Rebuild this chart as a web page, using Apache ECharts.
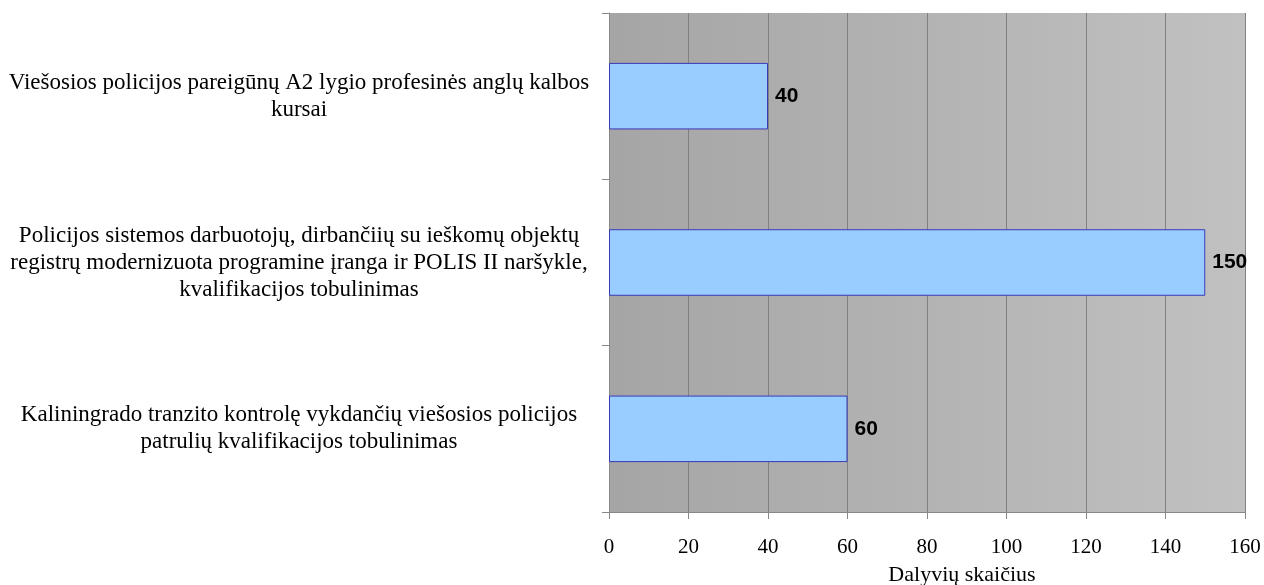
<!DOCTYPE html>
<html>
<head>
<meta charset="utf-8">
<style>
  html, body { margin: 0; padding: 0; background: #ffffff; }
  #chart { width: 1264px; height: 585px; }
</style>
<script src="https://cdn.jsdelivr.net/npm/echarts@6/dist/echarts.min.js"></script>
</head>
<body>
<div id="chart"></div>
<script>
// Categories listed bottom-to-top (category axis starts at the bottom)
const categories = [
  'Kaliningrado tranzito kontrolę vykdančių viešosios policijos\npatrulių kvalifikacijos tobulinimas',
  'Policijos sistemos darbuotojų, dirbančiių su ieškomų objektų\nregistrų modernizuota programine įranga ir POLIS II naršykle,\nkvalifikacijos tobulinimas',
  'Viešosios policijos pareigūnų A2 lygio profesinės anglų kalbos\nkursai'
];
const participants = [60, 150, 40];
const axisTitle = 'Dalyvių skaičius';

const serif = '"Liberation Serif", "Times New Roman", serif';
const chart = echarts.init(document.getElementById('chart'), null, { renderer: 'canvas' });

chart.setOption({
  animation: false,
  grid: {
    left: 609, right: 19, top: 13, bottom: 73,
    outerBoundsMode: 'none',
    containLabel: false,
    show: true,
    borderWidth: 0,
    backgroundColor: new echarts.graphic.LinearGradient(0, 0, 1, 0, [
      { offset: 0, color: '#a5a5a5' },
      { offset: 1, color: '#c1c1c1' }
    ])
  },
  xAxis: {
    type: 'value',
    min: 0, max: 160, interval: 20,
    name: axisTitle,
    nameLocation: 'middle',
    nameGap: 52,
    nameTextStyle: { fontFamily: serif, fontSize: 22, color: '#000', padding: [0, 0, 0, 70] },
    axisLine: { show: true, lineStyle: { color: '#888888', width: 1 } },
    axisTick: { show: true, length: 7, lineStyle: { color: '#888888' } },
    axisLabel: { fontFamily: serif, fontSize: 21, color: '#000', margin: 25 },
    splitLine: { show: true, lineStyle: { color: '#808080', width: 1 } }
  },
  yAxis: {
    type: 'category',
    data: categories,
    axisLine: { show: true, lineStyle: { color: '#888888', width: 1 } },
    axisTick: { show: true, length: 7, lineStyle: { color: '#888888' } },
    axisLabel: {
      fontFamily: serif, fontSize: 23, color: '#000',
      lineHeight: 27,
      align: 'center',
      margin: 310
    },
    splitLine: { show: false }
  },
  series: [{
    type: 'bar',
    data: participants,
    barWidth: '40%',
    itemStyle: { color: '#99ccff', borderColor: '#3a3ab8', borderWidth: 1 },
    label: {
      show: true,
      position: 'right',
      distance: 7,
      fontFamily: '"Liberation Sans", Arial, sans-serif',
      fontWeight: 'bold',
      fontSize: 21,
      color: '#000'
    }
  }]
});
</script>
</body>
</html>
